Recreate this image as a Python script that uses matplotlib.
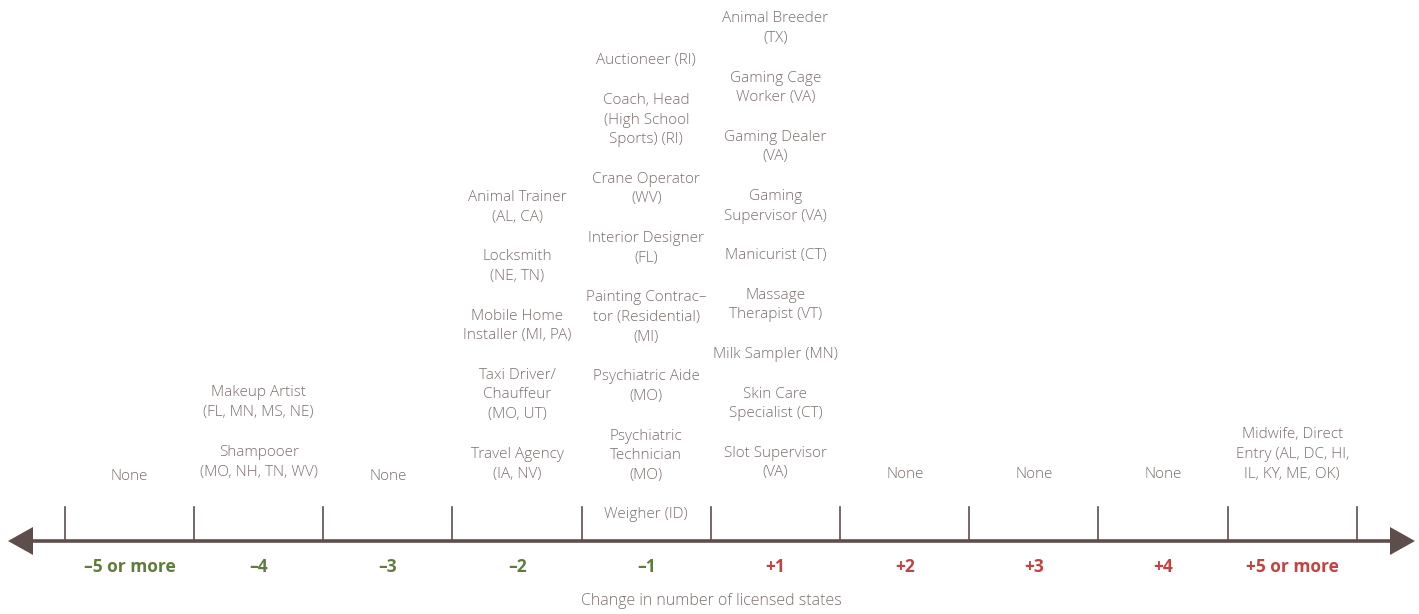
import matplotlib
matplotlib.use("Agg")
import matplotlib.pyplot as plt
from matplotlib.patches import Polygon

# bins on the number line
bin_labels = ["\u20135 or more", "\u20134", "\u20133", "\u20132", "\u20131",
              "+1", "+2", "+3", "+4", "+5 or more"]
bin_colors = ["#5f7d3a"] * 5 + ["#c2433f"] * 5

# occupations per bin, top to bottom (line breaks as in the original)
occ_m5 = ["None"]
occ_m4 = ["Makeup Artist\n(FL, MN, MS, NE)", "Shampooer\n(MO, NH, TN, WV)"]
occ_m3 = ["None"]
occ_m2 = ["Animal Trainer\n(AL, CA)", "Locksmith\n(NE, TN)",
          "Mobile Home\nInstaller (MI, PA)", "Taxi Driver/\nChauffeur\n(MO, UT)",
          "Travel Agency\n(IA, NV)"]
occ_m1 = ["Auctioneer (RI)", "Coach, Head\n(High School\nSports) (RI)",
          "Crane Operator\n(WV)", "Interior Designer\n(FL)",
          "Painting Contrac\u2013\ntor (Residential)\n(MI)", "Psychiatric Aide\n(MO)",
          "Psychiatric\nTechnician\n(MO)", "Weigher (ID)"]
occ_p1 = ["Animal Breeder\n(TX)", "Gaming Cage\nWorker (VA)", "Gaming Dealer\n(VA)",
          "Gaming\nSupervisor (VA)", "Manicurist (CT)", "Massage\nTherapist (VT)",
          "Milk Sampler (MN)", "Skin Care\nSpecialist (CT)", "Slot Supervisor\n(VA)"]
occ_p2 = ["None"]
occ_p3 = ["None"]
occ_p4 = ["None"]
occ_p5 = ["Midwife, Direct\nEntry (AL, DC, HI,\nIL, KY, ME, OK)"]
occupations = [occ_m5, occ_m4, occ_m3, occ_m2, occ_m1,
               occ_p1, occ_p2, occ_p3, occ_p4, occ_p5]

# pixel y of the lowest text line in each bin
bottom_y = [477, 472, 477, 474, 515, 473, 474, 474, 474, 474]

W, H = 1419, 614
x0, step = 129.5, 129.2
line_h = 19.75
axis_y = 541

text_color = "#7b706d"
line_color = "#5e4e4b"
font = "Open Sans"


def px2x(px):
    return (px - x0) / step


fig = plt.figure(figsize=(W / 100, H / 100), dpi=100)
ax = fig.add_axes([0, 0, 1, 1])
ax.set_xlim(px2x(0), px2x(W))
ax.set_ylim(H, 0)
ax.axis("off")

# main line with arrows
ax.plot([px2x(30), px2x(1393)], [axis_y, axis_y], color=line_color, lw=2.6,
        solid_capstyle="butt")
ax.add_patch(Polygon([[px2x(8), axis_y], [px2x(33), axis_y - 14], [px2x(33), axis_y + 14]],
                     closed=True, color=line_color, lw=0))
ax.add_patch(Polygon([[px2x(1415), axis_y], [px2x(1390), axis_y - 14], [px2x(1390), axis_y + 14]],
                     closed=True, color=line_color, lw=0))

# tick marks between bins
for i in range(len(bin_labels) + 1):
    ax.plot([i - 0.5, i - 0.5], [axis_y, 507], color=line_color, lw=1.2)

# bin labels
for i, (lab, c) in enumerate(zip(bin_labels, bin_colors)):
    ax.text(i, 567, lab, ha="center", va="center", color=c, fontsize=12.5,
            fontweight="bold", family=font)

# occupations stacked upwards, blank line between entries
for i, items in enumerate(occupations):
    lines = []
    for k, item in enumerate(items):
        if k > 0:
            lines.append("")
        lines.extend(item.split("\n"))
    n = len(lines)
    for j, ln in enumerate(lines):
        if ln == "":
            continue
        y = bottom_y[i] - (n - 1 - j) * line_h
        ax.text(i, y, ln, ha="center", va="center", color=text_color,
                fontsize=11, family=font, fontweight="light")

ax.text(px2x(711), 601, "Change in number of licensed states", ha="center", va="center",
        color=text_color, fontsize=11.5, family=font, fontweight="light")

fig.savefig("out.png", dpi=100)
